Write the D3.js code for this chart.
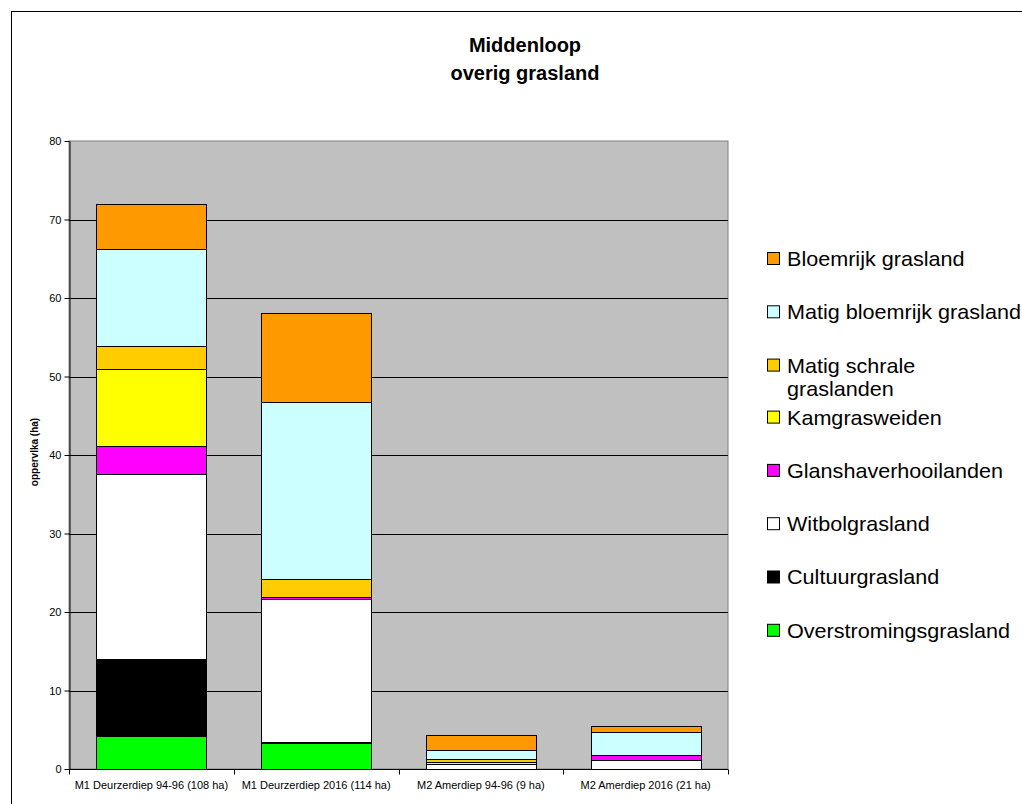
<!DOCTYPE html>
<html>
<head>
<meta charset="utf-8">
<script src="https://cdn.jsdelivr.net/npm/d3@7"></script>
<style>
  html, body { margin: 0; padding: 0; background: #fff; }
  svg { display: block; font-family: Arial, "Liberation Sans", sans-serif; }
</style>
</head>
<body>
<svg id="chart" width="1022" height="804"></svg>
<script>
// Areas per grassland type (ha), per section
const categories = [
  "M1 Deurzerdiep 94-96 (108 ha)",
  "M1 Deurzerdiep 2016 (114 ha)",
  "M2 Amerdiep 94-96 (9 ha)",
  "M2 Amerdiep 2016 (21 ha)"
];
const overstromingsgrasland = [4.2, 3.3, 0, 0];
const cultuurgrasland       = [9.8, 0.2, 0, 0];
const witbolgrasland        = [23.6, 18.15, 0.6, 1.15];
const glanshaverhooilanden  = [3.5, 0.3, 0, 0.6];
const kamgrasweiden         = [9.8, 0, 0.25, 0];
const matigSchraleGrasland  = [3.0, 2.3, 0.45, 0];
const matigBloemrijk        = [12.3, 22.5, 1.1, 3.0];
const bloemrijkGrasland     = [5.8, 11.4, 1.95, 0.7];
const yTicks = [0, 10, 20, 30, 40, 50, 60, 70, 80];

// Series in stacking order (bottom to top)
const series = [
  { name: "Overstromingsgrasland", values: overstromingsgrasland, color: "#00FF00" },
  { name: "Cultuurgrasland",       values: cultuurgrasland,       color: "#000000" },
  { name: "Witbolgrasland",        values: witbolgrasland,        color: "#FFFFFF" },
  { name: "Glanshaverhooilanden",  values: glanshaverhooilanden,  color: "#FF00FF" },
  { name: "Kamgrasweiden",         values: kamgrasweiden,         color: "#FFFF00" },
  { name: "Matig schrale graslanden", values: matigSchraleGrasland, color: "#FFCC00", lines: ["Matig schrale", "graslanden"] },
  { name: "Matig bloemrijk grasland", values: matigBloemrijk,     color: "#CCFFFF" },
  { name: "Bloemrijk grasland",    values: bloemrijkGrasland,     color: "#FF9900" }
];

const svg = d3.select("#chart");

// outer chart frame
svg.append("rect")
  .attr("x", 11.5).attr("y", 11.5)
  .attr("width", 1040).attr("height", 840)
  .attr("fill", "none").attr("stroke", "#000").attr("stroke-width", 1);

// title
const title = svg.append("text")
  .attr("text-anchor", "middle")
  .attr("font-weight", "bold")
  .attr("font-size", 20);
title.append("tspan").attr("x", 525).attr("y", 52).text("Middenloop");
title.append("tspan").attr("x", 525).attr("y", 80).text("overig grasland");

const plot = { left: 69, right: 728, top: 141, bottom: 769 };

const x = d3.scaleBand()
  .domain(categories)
  .range([plot.left, plot.right])
  .paddingInner(1 / 3)
  .paddingOuter(1 / 6);

const y = d3.scaleLinear()
  .domain([0, 80])
  .range([plot.bottom, plot.top]);

// plot background
svg.append("rect")
  .attr("x", plot.left).attr("y", plot.top)
  .attr("width", plot.right - plot.left).attr("height", plot.bottom - plot.top)
  .attr("fill", "#C0C0C0")
  .attr("stroke", "#808080").attr("stroke-width", 1);

// horizontal gridlines
svg.append("g")
  .selectAll("line")
  .data(yTicks.filter(d => d > 0 && d < 80))
  .join("line")
  .attr("x1", plot.left).attr("x2", plot.right)
  .attr("y1", d => Math.round(y(d)) + 0.5).attr("y2", d => Math.round(y(d)) + 0.5)
  .attr("stroke", "#000").attr("stroke-width", 1);

// stacked bars
const table = categories.map((c, i) => {
  const row = { category: c };
  series.forEach(s => { row[s.name] = s.values[i]; });
  return row;
});
const stacked = d3.stack().keys(series.map(s => s.name))(table);

svg.append("g")
  .selectAll("g")
  .data(stacked)
  .join("g")
  .attr("fill", (d, i) => series[i].color)
  .selectAll("rect")
  .data(d => d.filter(v => v[1] - v[0] > 0))
  .join("rect")
  .attr("x", d => Math.round(x(d.data.category)) + 0.5)
  .attr("width", Math.round(x.bandwidth()))
  .attr("y", d => Math.round(y(d[1])) + 0.5)
  .attr("height", d => Math.max(0, Math.round(y(d[0])) - Math.round(y(d[1]))))
  .attr("stroke", "#000").attr("stroke-width", 1);

// y axis
const yAxis = svg.append("g")
  .attr("transform", `translate(${plot.left + 0.5},0)`)
  .call(d3.axisLeft(y).tickValues(yTicks).tickSize(5).tickPadding(3).tickSizeOuter(0));
yAxis.select(".domain").attr("stroke", "#000");
yAxis.selectAll(".tick line").attr("stroke", "#000");
yAxis.selectAll(".tick text")
  .attr("font-family", "Arial, 'Liberation Sans', sans-serif")
  .attr("font-size", 11).attr("fill", "#000");

// x axis with ticks between categories
const xAxis = svg.append("g")
  .attr("transform", `translate(0,${plot.bottom + 0.5})`);
xAxis.append("line")
  .attr("x1", plot.left).attr("x2", plot.right)
  .attr("stroke", "#000");
const boundaries = d3.range(categories.length + 1)
  .map(i => plot.left + i * x.step());
xAxis.selectAll("line.tick")
  .data(boundaries)
  .join("line")
  .attr("class", "tick")
  .attr("x1", d => Math.round(d) + 0.5).attr("x2", d => Math.round(d) + 0.5)
  .attr("y1", 0).attr("y2", 5)
  .attr("stroke", "#000");
xAxis.selectAll("text")
  .data(categories)
  .join("text")
  .attr("x", d => x(d) + x.bandwidth() / 2)
  .attr("y", 19)
  .attr("text-anchor", "middle")
  .attr("font-size", 11)
  .text(d => d);

// y axis title
svg.append("text")
  .attr("transform", "translate(38,452) rotate(-90)")
  .attr("text-anchor", "middle")
  .attr("font-size", 10)
  .attr("font-weight", "bold")
  .text("oppervlka (ha)");

// legend, top item is the top of the stack; labels are slightly wide-set
const legendItems = series.slice().reverse();
const legend = svg.append("g");
let baseline = 266;
legendItems.forEach((s) => {
  const g = legend.append("g");
  g.append("rect")
    .attr("x", 767.5).attr("y", baseline - 13.5)
    .attr("width", 12).attr("height", 12)
    .attr("fill", s.color)
    .attr("stroke", "#000").attr("stroke-width", 1);
  const lines = s.lines || [s.name];
  const t = g.append("text")
    .attr("font-size", 20)
    .attr("transform", "translate(787,0) scale(1.08,1)");
  lines.forEach((ln, j) => {
    t.append("tspan").attr("x", 0).attr("y", baseline + j * 23.5).text(ln);
  });
  baseline += lines.length > 1 ? 52 : 53.3;
});
</script>
</body>
</html>
